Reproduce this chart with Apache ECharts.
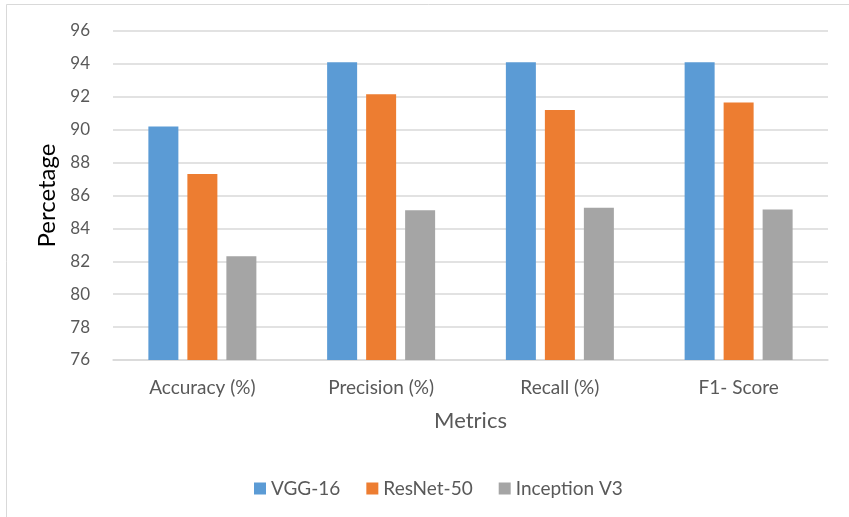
<!DOCTYPE html>
<html><head><meta charset="utf-8">
<script src="https://cdn.jsdelivr.net/npm/echarts@6/dist/echarts.min.js"></script>
<style>html,body{margin:0;padding:0;background:#fff}#c{width:849px;height:517px}</style>
</head><body><div id="c"></div>
<script>
var categories = ["Accuracy (%)", "Precision (%)", "Recall (%)", "F1- Score"];
var vgg16 = [90.2, 94.1, 94.1, 94.1];
var resnet50 = [87.3, 92.15, 91.2, 91.65];
var inceptionV3 = [82.3, 85.1, 85.25, 85.15];
var seriesNames = ["VGG-16", "ResNet-50", "Inception V3"];
var colors = ["#5B9BD5", "#ED7D31", "#A5A5A5"];
var font = "Lato, 'Open Sans', sans-serif";
var chart = echarts.init(document.getElementById('c'));
function mk(name, data, color){
  return {name:name, type:'bar', data:data, barWidth:30, barGap:'30%',
    itemStyle:{color:color}};
}
chart.setOption({
  animation:false,
  backgroundColor:'#fff',
  graphic:[{type:'rect', shape:{x:6.5,y:4.5,width:900,height:515}, style:{fill:'none', stroke:'#D9D9D9', lineWidth:1}}],
  grid:{left:113, right:21, top:31, bottom:157},
  legend:{top:474, left:249, itemWidth:12, itemHeight:12, itemGap:26,
    icon:'rect', textStyle:{fontFamily:font, fontSize:19, color:'#595959'},
    data:seriesNames},
  xAxis:{type:'category', data:categories,
    name:'Metrics', nameLocation:'middle', nameGap:50,
    nameTextStyle:{fontFamily:font, fontSize:22, color:'#595959'},
    axisLine:{lineStyle:{color:'#D9D9D9', width:1.5}},
    axisTick:{show:false},
    axisLabel:{fontFamily:font, fontSize:19, color:'#595959', margin:18}},
  yAxis:{type:'value', min:76, max:96, interval:2,
    name:'Percetage', nameLocation:'middle', nameGap:48, nameRotate:90,
    nameTextStyle:{fontFamily:font, fontSize:24, color:'#000'},
    axisLine:{show:false}, axisTick:{show:false},
    splitLine:{lineStyle:{color:'#D9D9D9', width:1.5}},
    axisLabel:{fontFamily:font, fontSize:17, color:'#595959', margin:23}},
  series:[mk(seriesNames[0], vgg16, colors[0]), mk(seriesNames[1], resnet50, colors[1]), mk(seriesNames[2], inceptionV3, colors[2])]
});
</script></body></html>
